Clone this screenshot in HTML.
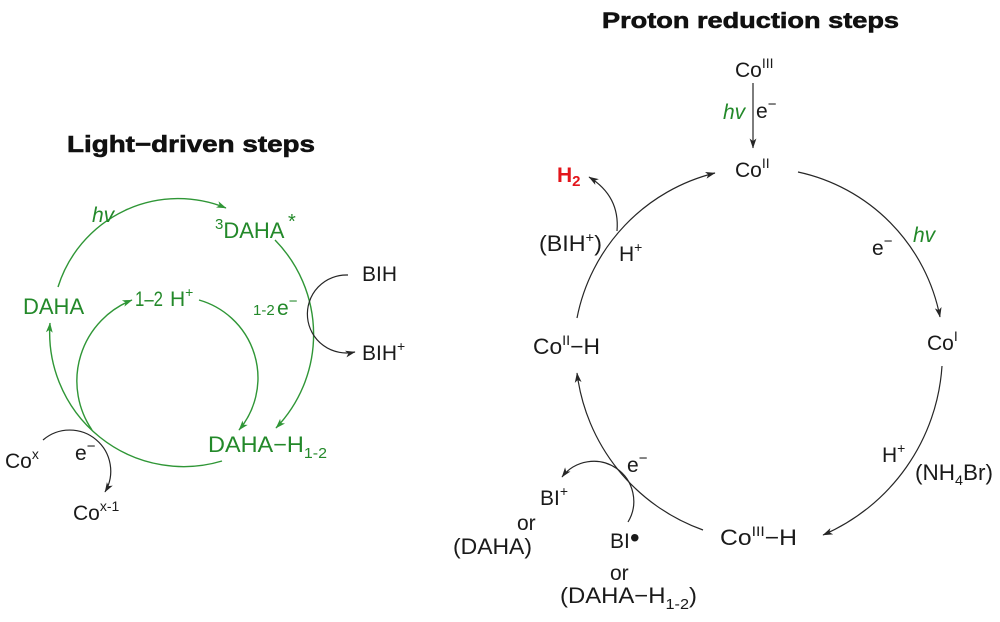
<!DOCTYPE html>
<html>
<head>
<meta charset="utf-8">
<style>
  html,body{margin:0;padding:0;background:#fff;}
  svg{display:block;}
  .k{fill:#1a1a1a;}
  .g{fill:#23892a;}
  .gl{fill:none;stroke:#2f9636;stroke-width:1.4;}
  .bl{fill:none;stroke:#262626;stroke-width:1.2;}
</style>
</head>
<body>
<svg width="1000" height="622" viewBox="0 0 1000 622" font-family="'Liberation Sans', Arial, sans-serif" font-size="22">
  <defs>
    <marker id="ab" viewBox="0 0 10 8" refX="9.5" refY="4" markerWidth="10" markerHeight="8" markerUnits="userSpaceOnUse" orient="auto">
      <path d="M0,0.6 L10,4 L0,7.4 L2.6,4z" fill="#262626"/>
    </marker>
    <marker id="ag" viewBox="0 0 10 8" refX="9.5" refY="4" markerWidth="10" markerHeight="8" markerUnits="userSpaceOnUse" orient="auto">
      <path d="M0,0.6 L10,4 L0,7.4 L2.6,4z" fill="#2f9636"/>
    </marker>
  </defs>

  <!-- ===== LEFT: Light-driven steps ===== -->
  <text x="67" y="152" font-weight="bold" font-size="23" fill="#111" stroke="#111" stroke-width="0.6" textLength="248" lengthAdjust="spacingAndGlyphs">Light−driven steps</text>

  <!-- green arcs -->
  <path class="gl" d="M58,287 A126,126 0 0 1 226,208" marker-end="url(#ag)"/>
  <path class="gl" d="M275,240 A135,135 0 0 1 276,428" marker-end="url(#ag)"/>
  <path class="gl" d="M222,461 A134,134 0 0 1 50,323" marker-end="url(#ag)"/>
  <path class="gl" d="M92,430 A87,87 0 0 1 132,300" marker-end="url(#ag)"/>
  <path class="gl" d="M199,300 A81,81 0 0 1 239,430" marker-end="url(#ag)"/>

  <!-- black arcs left -->
  <path class="bl" d="M43,440 A41,41 0 0 1 105,492" marker-end="url(#ab)"/>
  <path class="bl" d="M348,275 A39,39 0 1 0 355,352" marker-end="url(#ab)"/>

  <!-- green labels -->
  <text class="g" x="92" y="222" font-style="italic" font-size="21">hv</text>
  <text class="g" x="215" y="238" font-size="22"><tspan font-size="15" dy="-9">3</tspan><tspan dy="9">DAHA</tspan></text>
  <text class="g" x="288" y="228" font-size="20">*</text>
  <text class="g" x="23" y="314" font-size="22">DAHA</text>
  <text class="g" x="135" y="306" font-size="21" textLength="28" lengthAdjust="spacingAndGlyphs">1–2</text>
  <text class="g" x="170" y="306" font-size="21">H<tspan font-size="14" dy="-9">+</tspan></text>
  <text class="g" x="253" y="315" font-size="15">1-2</text>
  <text class="g" x="277" y="315" font-size="21">e<tspan font-size="15" dy="-9">−</tspan></text>
  <text class="g" x="208" y="452" font-size="22" textLength="119" lengthAdjust="spacingAndGlyphs">DAHA−H<tspan font-size="15" dy="6">1-2</tspan></text>

  <!-- black labels left -->
  <text class="k" x="362" y="281" font-size="21">BIH</text>
  <text class="k" x="362" y="360" font-size="21">BIH<tspan font-size="14" dy="-9">+</tspan></text>
  <text class="k" x="5" y="468" font-size="21">Co<tspan font-size="14" dy="-9">x</tspan></text>
  <text class="k" x="75" y="460" font-size="21">e<tspan font-size="15" dy="-9">−</tspan></text>
  <text class="k" x="73" y="520" font-size="21">Co<tspan font-size="14" dy="-9">x-1</tspan></text>

  <!-- ===== RIGHT: Proton reduction steps ===== -->
  <text x="602" y="28" font-weight="bold" font-size="22" fill="#111" stroke="#111" stroke-width="0.6" textLength="297" lengthAdjust="spacingAndGlyphs">Proton reduction steps</text>

  <!-- connectors -->
  <line class="bl" x1="753" y1="83" x2="753" y2="148" marker-end="url(#ab)"/>
  <path class="bl" d="M617,231 C619,208 610,190 589,177" marker-end="url(#ab)"/>
  <path class="bl" d="M577,318 A186,186 0 0 1 715,173" marker-end="url(#ab)"/>
  <path class="bl" d="M798,172 A184,184 0 0 1 940,317" marker-end="url(#ab)"/>
  <path class="bl" d="M942,366 A198,198 0 0 1 823,535" marker-end="url(#ab)"/>
  <path class="bl" d="M703,530 A192,192 0 0 1 577,373" marker-end="url(#ab)"/>
  <path class="bl" d="M628,522 A40,40 0 0 0 562,477" marker-end="url(#ab)"/>

  <!-- labels -->
  <text class="k" x="735" y="77" font-size="21">Co<tspan font-size="14" dy="-9">III</tspan></text>
  <text class="g" x="723" y="119" font-style="italic" font-size="21">hv</text>
  <text class="k" x="756" y="118" font-size="21">e<tspan font-size="15" dy="-9">−</tspan></text>
  <text class="k" x="735" y="177" font-size="21">Co<tspan font-size="14" dy="-9">II</tspan></text>
  <text x="557" y="182" font-weight="bold" font-size="21" fill="#e3151b">H<tspan font-size="15" dy="4">2</tspan></text>
  <text class="k" x="539" y="251" font-size="22" textLength="63" lengthAdjust="spacingAndGlyphs">(BIH<tspan font-size="14" dy="-9">+</tspan><tspan dy="9">)</tspan></text>
  <text class="k" x="619" y="261" font-size="21">H<tspan font-size="14" dy="-9">+</tspan></text>
  <text class="k" x="872" y="255" font-size="21">e<tspan font-size="15" dy="-9">−</tspan></text>
  <text class="g" x="913" y="242" font-style="italic" font-size="21">hv</text>
  <text class="k" x="927" y="350" font-size="21">Co<tspan font-size="14" dy="-9">I</tspan></text>
  <text class="k" x="882" y="462" font-size="21">H<tspan font-size="14" dy="-9">+</tspan></text>
  <text class="k" x="915" y="480" font-size="22" textLength="78" lengthAdjust="spacingAndGlyphs">(NH<tspan font-size="14" dy="5">4</tspan><tspan dy="-5">Br)</tspan></text>
  <text class="k" x="720" y="545" font-size="22" textLength="77" lengthAdjust="spacingAndGlyphs">Co<tspan font-size="14" dy="-9">III</tspan><tspan dy="9">−H</tspan></text>
  <text class="k" x="533" y="354" font-size="22" textLength="67" lengthAdjust="spacingAndGlyphs">Co<tspan font-size="14" dy="-9">II</tspan><tspan dy="9">−H</tspan></text>
  <text class="k" x="627" y="472" font-size="21">e<tspan font-size="15" dy="-9">−</tspan></text>
  <text class="k" x="540" y="505" font-size="21">BI<tspan font-size="14" dy="-9">+</tspan></text>
  <text class="k" x="517" y="530" font-size="21">or</text>
  <text class="k" x="453" y="554" font-size="22" textLength="79" lengthAdjust="spacingAndGlyphs">(DAHA)</text>
  <text class="k" x="610" y="548" font-size="21">BI<tspan font-size="28" dy="-1">•</tspan></text>
  <text class="k" x="610" y="580" font-size="21">or</text>
  <text class="k" x="560" y="603" font-size="22" textLength="137" lengthAdjust="spacingAndGlyphs">(DAHA−H<tspan font-size="15" dy="6">1-2</tspan><tspan dy="-6">)</tspan></text>
</svg>
</body>
</html>
